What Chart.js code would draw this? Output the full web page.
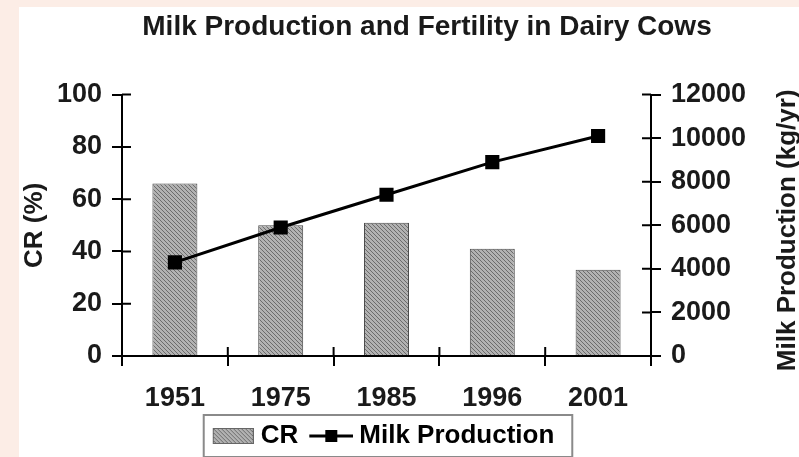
<!DOCTYPE html>
<html>
<head>
<meta charset="utf-8">
<script src="https://cdn.jsdelivr.net/npm/chart.js@4"></script>
<style>
  html, body { margin: 0; padding: 0; background: #fcede6; }
  #frame { position: absolute; left: 19px; top: 7px; width: 780px; height: 450px; background: #fff; overflow: hidden; }
  canvas { display: block; }
</style>
</head>
<body>
<div id="frame"><canvas id="chart" width="780" height="450"></canvas></div>
<script>
// ===== DATA =====
var years = ["1951", "1975", "1985", "1996", "2001"];
var crValues = [66, 50, 51, 41, 33];
var milkValues = [4300, 5900, 7400, 8900, 10100];
var crTicks = [0, 20, 40, 60, 80, 100];
var milkTicks = [0, 2000, 4000, 6000, 8000, 10000, 12000];

var FONT = '"Liberation Sans", Arial, Helvetica, sans-serif';
var INK = "#1a1a1a";

// hatch fill for the bars
function hatchPattern(ctx) {
    var c = document.createElement("canvas");
    c.width = 4; c.height = 4;
    var g = c.getContext("2d");
    g.fillStyle = "#b2b2b2";
    g.fillRect(0, 0, 4, 4);
    g.fillStyle = "#6c6c6c";
    for (var i = 0; i < 4; i++) g.fillRect(i, i, 1, 1);
    return ctx.createPattern(c, "repeat");
}

var chartCtx = document.getElementById("chart").getContext("2d");
var barFill = hatchPattern(chartCtx);

// legend swatches (images drawn by the legend)
function crSwatch() {
    var c = document.createElement("canvas");
    c.width = 50; c.height = 18;
    var g = c.getContext("2d");
    g.fillStyle = hatchPattern(g);
    g.fillRect(9, 1, 41, 16);
    g.strokeStyle = "#666";
    g.lineWidth = 1;
    g.strokeRect(9.5, 1.5, 40, 15);
    return c;
}

function milkSwatch() {
    var c = document.createElement("canvas");
    c.width = 52; c.height = 18;
    var g = c.getContext("2d");
    g.strokeStyle = "#000";
    g.lineWidth = 3;
    g.beginPath(); g.moveTo(8, 9); g.lineTo(52, 9); g.stroke();
    g.fillStyle = "#000";
    g.fillRect(24, 3, 12, 12);
    return c;
}

var legendImages = [crSwatch(), milkSwatch()];

// ticks that cross the axis lines (inner half), legend frame, right title
var axisExtras = {
    id: "axisExtras",
    afterLayout: function(chart) {
        chart.titleBlock.left += 18;
        chart.titleBlock.right += 18;
        chart.legend.left -= 27;
        chart.legend.right -= 27;
        chart.legend.top += 2;
        chart.legend.bottom += 2;
    },
    afterDraw: function(chart) {
        var ctx = chart.ctx;
        var area = chart.chartArea;
        var y = chart.scales.y, y1 = chart.scales.y1, x = chart.scales.x;
        ctx.save();
        ctx.strokeStyle = "#000";
        ctx.lineWidth = 2;
        ctx.beginPath();
        y.ticks.forEach(function(t, i) {
            var py = y.getPixelForTick(i);
            ctx.moveTo(area.left, py); ctx.lineTo(area.left + 9, py);
        });
        y1.ticks.forEach(function(t, i) {
            var py = y1.getPixelForTick(i);
            ctx.moveTo(area.right - 9, py); ctx.lineTo(area.right, py);
        });
        var step = x.getPixelForTick(1) - x.getPixelForTick(0);
        for (var i = 1; i < years.length; i++) {
            var px = x.getPixelForTick(i) - step / 2;
            ctx.moveTo(px, area.bottom - 9); ctx.lineTo(px, area.bottom);
        }
        ctx.stroke();

        // legend frame
        var boxes = chart.legend.legendHitBoxes;
        if (boxes && boxes.length) {
            var first = boxes[0], last = boxes[boxes.length - 1];
            var cy = first.top + first.height / 2;
            var l = first.left - 6, r = last.left + last.width + 18;
            ctx.strokeStyle = "#8a8a8a";
            ctx.lineWidth = 2;
            ctx.strokeRect(l, cy - 21, r - l, 42);
        }

        // right axis title, reading bottom to top
        ctx.fillStyle = INK;
        ctx.font = "bold 26px " + FONT;
        ctx.textAlign = "center";
        ctx.textBaseline = "middle";
        ctx.translate(y1.right - 11, (area.top + area.bottom) / 2 + 5);
        ctx.rotate(-Math.PI / 2);
        ctx.fillText("Milk Production (kg/yr)", 0, 0);
        ctx.restore();
    }
};

new Chart(chartCtx, {
    type: "bar",
    data: {
        labels: years,
        datasets: [{
            type: "bar",
            label: "CR",
            data: crValues,
            yAxisID: "y",
            backgroundColor: barFill,
            borderColor: "#4a4a4a",
            borderWidth: 1,
            barPercentage: 0.425,
            categoryPercentage: 1,
            order: 2
        }, {
            type: "line",
            label: "Milk Production",
            data: milkValues,
            yAxisID: "y1",
            borderColor: "#000",
            backgroundColor: "#000",
            borderWidth: 3,
            tension: 0,
            pointStyle: "rect",
            pointRadius: 10,
            pointBorderWidth: 0,
            order: 1
        }]
    },
    options: {
        responsive: false,
        animation: false,
        layout: { padding: 0 },
        plugins: {
            tooltip: { enabled: false },
            title: {
                display: true,
                text: "Milk Production and Fertility in Dairy Cows",
                color: INK,
                font: { family: FONT, size: 28, weight: "bold" },
                padding: { top: 3, bottom: 51 }
            },
            legend: {
                position: "bottom",
                labels: {
                    usePointStyle: true,
                    pointStyleWidth: 38,
                    padding: 10,
                    color: INK,
                    font: { family: FONT, size: 26, weight: "bold" },
                    generateLabels: function(chart) {
                        return chart.data.datasets.map(function(ds, i) {
                            return {
                                text: ds.label,
                                pointStyle: legendImages[i],
                                fillStyle: "#000",
                                strokeStyle: "#000",
                                lineWidth: 0,
                                hidden: false,
                                datasetIndex: i
                            };
                        });
                    }
                }
            }
        },
        scales: {
            x: {
                offset: true,
                grid: { display: true, offset: true, drawOnChartArea: false, tickLength: 10, color: "#000", lineWidth: 2 },
                border: { display: true, color: "#000", width: 2 },
                ticks: { color: INK, padding: 16, font: { family: FONT, size: 27, weight: "bold" } },
                afterFit: function(s) { s.height = 55; }
            },
            y: {
                position: "left",
                min: 0,
                max: 100,
                afterBuildTicks: function(s) { s.ticks = crTicks.map(function(v) { return { value: v }; }); },
                grid: { display: true, drawOnChartArea: false, tickLength: 10, color: "#000", lineWidth: 2 },
                border: { display: true, color: "#000", width: 2 },
                ticks: { color: INK, padding: 10, font: { family: FONT, size: 27, weight: "bold" } },
                title: { display: true, text: "CR (%)", color: INK, padding: 0, font: { family: FONT, size: 26, weight: "bold" } },
                afterFit: function(s) { s.width = 103; }
            },
            y1: {
                position: "right",
                min: 0,
                max: 12000,
                afterBuildTicks: function(s) { s.ticks = milkTicks.map(function(v) { return { value: v }; }); },
                grid: { display: true, drawOnChartArea: false, tickLength: 10, color: "#000", lineWidth: 2 },
                border: { display: true, color: "#000", width: 2 },
                ticks: { color: INK, padding: 10, font: { family: FONT, size: 27, weight: "bold" }, callback: function(v) { return String(v); } },
                afterFit: function(s) { s.width = 148; }
            }
        }
    },
    plugins: [axisExtras]
});
</script>
</body>
</html>
